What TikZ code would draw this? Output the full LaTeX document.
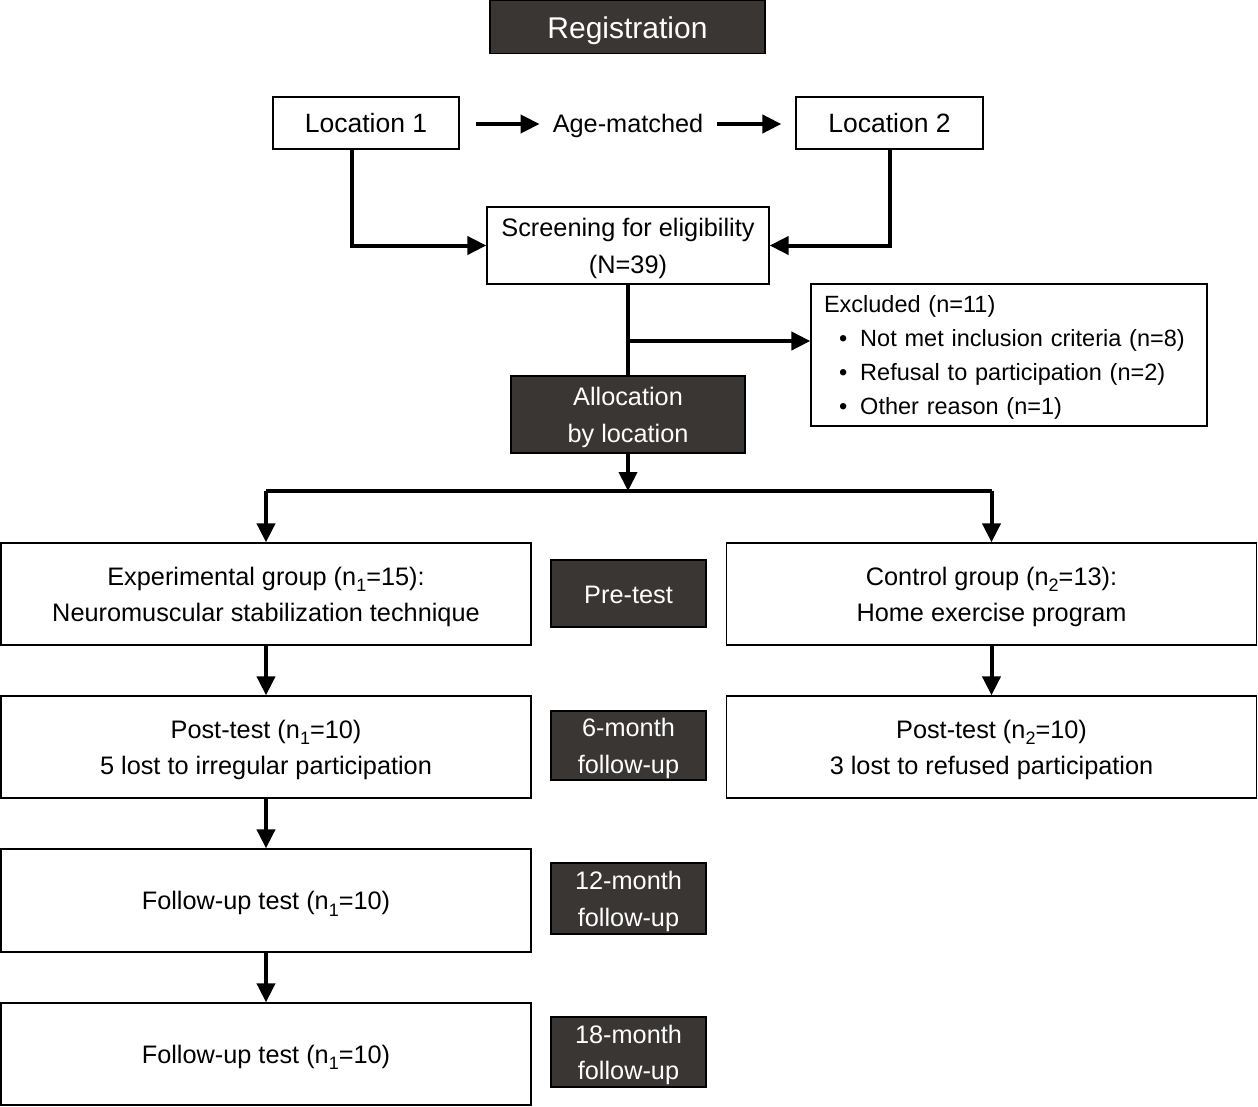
\documentclass[tikz,border=0pt]{standalone}
\usepackage{fontspec}
\setmainfont{Liberation Sans}
\usetikzlibrary{arrows.meta}
\definecolor{darkfill}{HTML}{3A3634}
\newcommand{\subn}[1]{\raisebox{-0.5ex}{\fontsize{18}{18}\selectfont #1}}
\newcommand{\ts}{\rule[-6pt]{0pt}{31pt}}
\newcommand{\bs}{\rule[-6pt]{0pt}{6pt}}
\begin{document}
\begin{tikzpicture}[x=1pt,y=-1pt,
  box/.style={draw=black, line width=1.3pt, fill=white, align=center, inner sep=0pt,
    font=\fontsize{25.3}{36.5}\selectfont},
  dbox/.style={box, fill=darkfill, text=white},
  conn/.style={line width=4pt, line join=miter},
  arr/.style={conn, -{Triangle[length=19pt,width=18pt]}}]
\useasboundingbox (0,0) rectangle (1258,1106);
\fill[white] (0,0) rectangle (1258,1106);

\node[dbox, minimum width=275, minimum height=53, font=\fontsize{30}{36}\selectfont] (reg) at (627.5,27) {\rule[-7pt]{0pt}{37pt}Registration};
\node[box, minimum width=186, minimum height=52, font=\fontsize{26.5}{32}\selectfont] (loc1) at (366,123) {\ts Location 1};
\node[box, minimum width=187, minimum height=52, font=\fontsize{26.5}{32}\selectfont] (loc2) at (889.5,123) {\ts Location 2};
\node[inner sep=0pt, font=\fontsize{25.3}{30}\selectfont] (age) at (628,126) {Age-matched};
\node[box, minimum width=282, minimum height=77] (scr) at (628,245.5) {\ts Screening for eligibility\\(N=39)\bs};
\node[box, text width=370, inner xsep=13, minimum height=142, align=left,
  font=\fontsize{23.5}{34.3}\selectfont] (excl) at (1009,355)
  {\rule[-6pt]{0pt}{29pt}Excluded (n=11)\\
   \hspace*{15pt}•\hspace*{13pt}Not met inclusion criteria (n=8)\\
   \hspace*{15pt}•\hspace*{13pt}Refusal to participation (n=2)\\
   \hspace*{15pt}•\hspace*{13pt}Other reason (n=1)\bs};
\node[dbox, minimum width=234, minimum height=77] (alloc) at (628,414.5) {\ts Allocation\\by location\bs};

\node[box, minimum width=530, minimum height=102] (exp) at (266,594) {\ts Experimental group (n\subn{1}=15):\\Neuromuscular stabilization technique\bs};
\node[dbox, minimum width=155, minimum height=67] (pre) at (628.5,593.5) {\ts Pre-test\bs};
\node[box, minimum width=530, minimum height=102] (ctrl) at (991.5,594) {\ts Control group (n\subn{2}=13):\\Home exercise program\bs};

\node[box, minimum width=530, minimum height=102] (post1) at (266,747) {\ts Post-test (n\subn{1}=10)\\5 lost to irregular participation\bs};
\node[dbox, minimum width=155, minimum height=69] (m6) at (628.5,745.5) {\ts 6-month\\follow-up\bs};
\node[box, minimum width=530, minimum height=102] (post2) at (991.5,747) {\ts Post-test (n\subn{2}=10)\\3 lost to refused participation\bs};

\node[box, minimum width=530, minimum height=103] (fu1) at (266,900.5) {\ts Follow-up test (n\subn{1}=10)\bs};
\node[dbox, minimum width=155, minimum height=71] (m12) at (628.5,898.5) {\ts 12-month\\follow-up\bs};

\node[box, minimum width=530, minimum height=102] (fu2) at (266,1054) {\ts Follow-up test (n\subn{1}=10)\bs};
\node[dbox, minimum width=155, minimum height=70] (m18) at (628.5,1052) {\ts 18-month\\follow-up\bs};

% connectors
\draw[arr] ([xshift=16pt,yshift=-1pt]loc1.east) -- ([xshift=-13pt,yshift=-1pt]loc1.east -| age.west);
\draw[arr] ([xshift=14pt,yshift=-1pt]loc2.west -| age.east) -- ([xshift=-14pt,yshift=-1pt]loc2.west);
\draw[arr] ([xshift=-14pt]loc1.south) |- (scr.west);
\draw[arr] (loc2.south) |- (scr.east);
\draw[conn] (scr.south) -- (alloc.north);
\coordinate (br) at (628,341);
\draw[arr] (br) -- (br -| excl.west);
\coordinate (split) at (628,491);
\draw[arr] (alloc.south) -- (split);
\draw[conn] (exp.north |- split) -- (ctrl.north |- split);
\draw[arr] (exp.north |- split) -- (exp.north);
\draw[arr] (ctrl.north |- split) -- (ctrl.north);
\draw[arr] (exp.south) -- (post1.north);
\draw[arr] (ctrl.south) -- (post2.north);
\draw[arr] (post1.south) -- (fu1.north);
\draw[arr] (fu1.south) -- (fu2.north);
\end{tikzpicture}
\end{document}
